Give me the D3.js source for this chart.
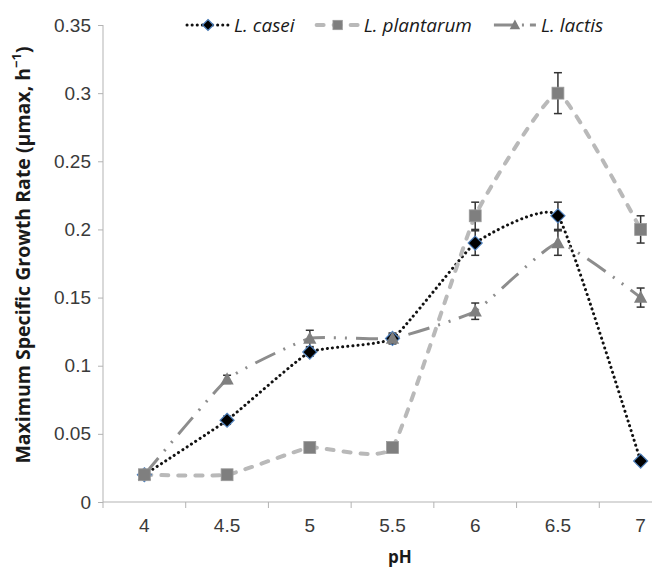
<!DOCTYPE html>
<html>
<head>
<meta charset="utf-8">
<script src="https://cdn.jsdelivr.net/npm/d3@7"></script>
<style>
  body { margin: 0; background: #fff; }
  svg { display: block; font-family: "Open Sans", sans-serif; }
  .axis path, .axis line { stroke: #b3b3b3; }
  .axis text { fill: #3a3a3a; font-size: 19px; }
</style>
</head>
<body>
<svg id="chart"></svg>
<script>
// pH categories and growth rates
const phLabels = ["4", "4.5", "5", "5.5", "6", "6.5", "7"];
const caseiValues = [0.02, 0.06, 0.11, 0.12, 0.19, 0.21, 0.03];
const caseiErrors = [0.003, 0.003, 0.003, 0.003, 0.009, 0.01, 0.002];
const plantarumValues = [0.02, 0.02, 0.04, 0.04, 0.21, 0.30, 0.20];
const plantarumErrors = [0.002, 0.002, 0.002, 0.002, 0.01, 0.015, 0.01];
const lactisValues = [0.02, 0.09, 0.12, 0.12, 0.14, 0.19, 0.15];
const lactisErrors = [0.002, 0.003, 0.006, 0.004, 0.006, 0.009, 0.007];
const yTicks = [0, 0.05, 0.1, 0.15, 0.2, 0.25, 0.3, 0.35];

const width = 652;
const height = 568;

const series = [
  { name: "L. casei", values: caseiValues, errors: caseiErrors, shape: "diamond",
    stroke: "#111", dash: "0.1 5", cap: "round", lineWidth: 3 },
  { name: "L. plantarum", values: plantarumValues, errors: plantarumErrors, shape: "square",
    stroke: "#b9b9b9", dash: "7 10", cap: "round", lineWidth: 4 },
  { name: "L. lactis", values: lactisValues, errors: lactisErrors, shape: "triangle",
    stroke: "#8d8d8d", dash: "22 9 2 9 2 9", cap: "butt", lineWidth: 3 },
];

const svg = d3.select("#chart").attr("width", width).attr("height", height);

// Scales (the band range runs past the right edge, like the cropped original)
const xScale = d3.scaleBand().domain(phLabels).range([103, 682]);
const yScale = d3.scaleLinear().domain([0, 0.35]).range([502, 25]);
const cx = (i) => xScale(phLabels[i]) + xScale.bandwidth() / 2;

// y-axis
svg.append("g")
  .attr("class", "axis")
  .attr("transform", `translate(${xScale.range()[0]},0)`)
  .call(d3.axisLeft(yScale).tickValues(yTicks).tickSize(5).tickPadding(7).tickFormat((d) => String(d)))
  .call((g) => g.select(".domain").attr("d", `M0,${yScale(0.35)}V${yScale(0)}`));

// x-axis: labels at band centres, tick marks on band edges
const xAxis = svg.append("g")
  .attr("class", "axis")
  .attr("transform", `translate(0,${yScale(0)})`)
  .call(d3.axisBottom(xScale).tickSize(0).tickPadding(17));
xAxis.select(".domain").attr("d", `M${xScale.range()[0]},0H${width}`);
xAxis.selectAll(".edge")
  .data(phLabels)
  .join("line")
  .attr("class", "edge")
  .attr("x1", (d) => xScale(d)).attr("x2", (d) => xScale(d))
  .attr("y1", 0).attr("y2", 6);

// Axis titles
svg.append("text")
  .attr("transform", `translate(30,255) rotate(-90)`)
  .attr("text-anchor", "middle")
  .attr("font-weight", "bold")
  .attr("font-size", 19.5)
  .attr("fill", "#1a1a1a")
  .html('Maximum Specific Growth Rate (μmax, h<tspan baseline-shift="super" font-size="13">−1</tspan>)');

svg.append("text")
  .attr("x", 400).attr("y", 563)
  .attr("text-anchor", "middle")
  .attr("font-weight", "bold")
  .attr("font-size", 17)
  .attr("fill", "#1a1a1a")
  .text("pH");

// Marker drawing
function marker(g, shape, s) {
  if (shape === "diamond") {
    g.append("path")
      .attr("d", `M0,${-s}L${s},0L0,${s}L${-s},0Z`)
      .attr("fill", "#000").attr("stroke", "#4f81bd").attr("stroke-width", 1.2);
  } else if (shape === "square") {
    g.append("rect")
      .attr("x", -s * 0.85).attr("y", -s * 0.85)
      .attr("width", s * 1.7).attr("height", s * 1.7)
      .attr("fill", "#7f7f7f").attr("stroke", "#9a9a9a").attr("stroke-width", 0.8);
  } else {
    g.append("path")
      .attr("d", `M0,${-s}L${s * 0.95},${s * 0.75}L${-s * 0.95},${s * 0.75}Z`)
      .attr("fill", "#7f7f7f");
  }
}

const line = d3.line()
  .x((d, i) => cx(i))
  .y((d) => yScale(d))
  .curve(d3.curveCardinal.tension(0.6));

// Lines
series.forEach((s) => {
  svg.append("path")
    .datum(s.values)
    .attr("fill", "none")
    .attr("stroke", s.stroke)
    .attr("stroke-width", s.lineWidth)
    .attr("stroke-dasharray", s.dash)
    .attr("stroke-linecap", s.cap)
    .attr("d", line);
});

// Error bars
series.forEach((s) => {
  const eb = svg.append("g").attr("stroke", "#333").attr("stroke-width", 1.5);
  s.values.forEach((v, i) => {
    const x = cx(i);
    const top = yScale(v + s.errors[i]);
    const bot = yScale(v - s.errors[i]);
    eb.append("line").attr("x1", x).attr("x2", x).attr("y1", top).attr("y2", bot);
    eb.append("line").attr("x1", x - 4).attr("x2", x + 4).attr("y1", top).attr("y2", top);
    eb.append("line").attr("x1", x - 4).attr("x2", x + 4).attr("y1", bot).attr("y2", bot);
  });
});

// Markers: casei, lactis, plantarum on top
[series[0], series[2], series[1]].forEach((s) => {
  s.values.forEach((v, i) => {
    const g = svg.append("g").attr("transform", `translate(${cx(i)},${yScale(v)})`);
    marker(g, s.shape, 7);
  });
});

// Legend
let lx = 187;
series.forEach((s) => {
  const g = svg.append("g").attr("transform", `translate(${lx},25)`);
  g.append("line")
    .attr("x1", 0).attr("x2", 42)
    .attr("stroke", s.stroke)
    .attr("stroke-width", s.lineWidth)
    .attr("stroke-dasharray", s.shape === "triangle" ? "22 6 2 6" : s.dash)
    .attr("stroke-linecap", s.cap);
  const m = g.append("g").attr("transform", "translate(21,0)");
  marker(m, s.shape, 5.5);
  const t = g.append("text")
    .attr("x", 47).attr("dy", "0.35em")
    .attr("font-style", "italic")
    .attr("font-size", 19)
    .attr("fill", "#1a1a1a")
    .text(s.name);
  lx += 47 + t.node().getComputedTextLength() + 22;
});
</script>
</body>
</html>
